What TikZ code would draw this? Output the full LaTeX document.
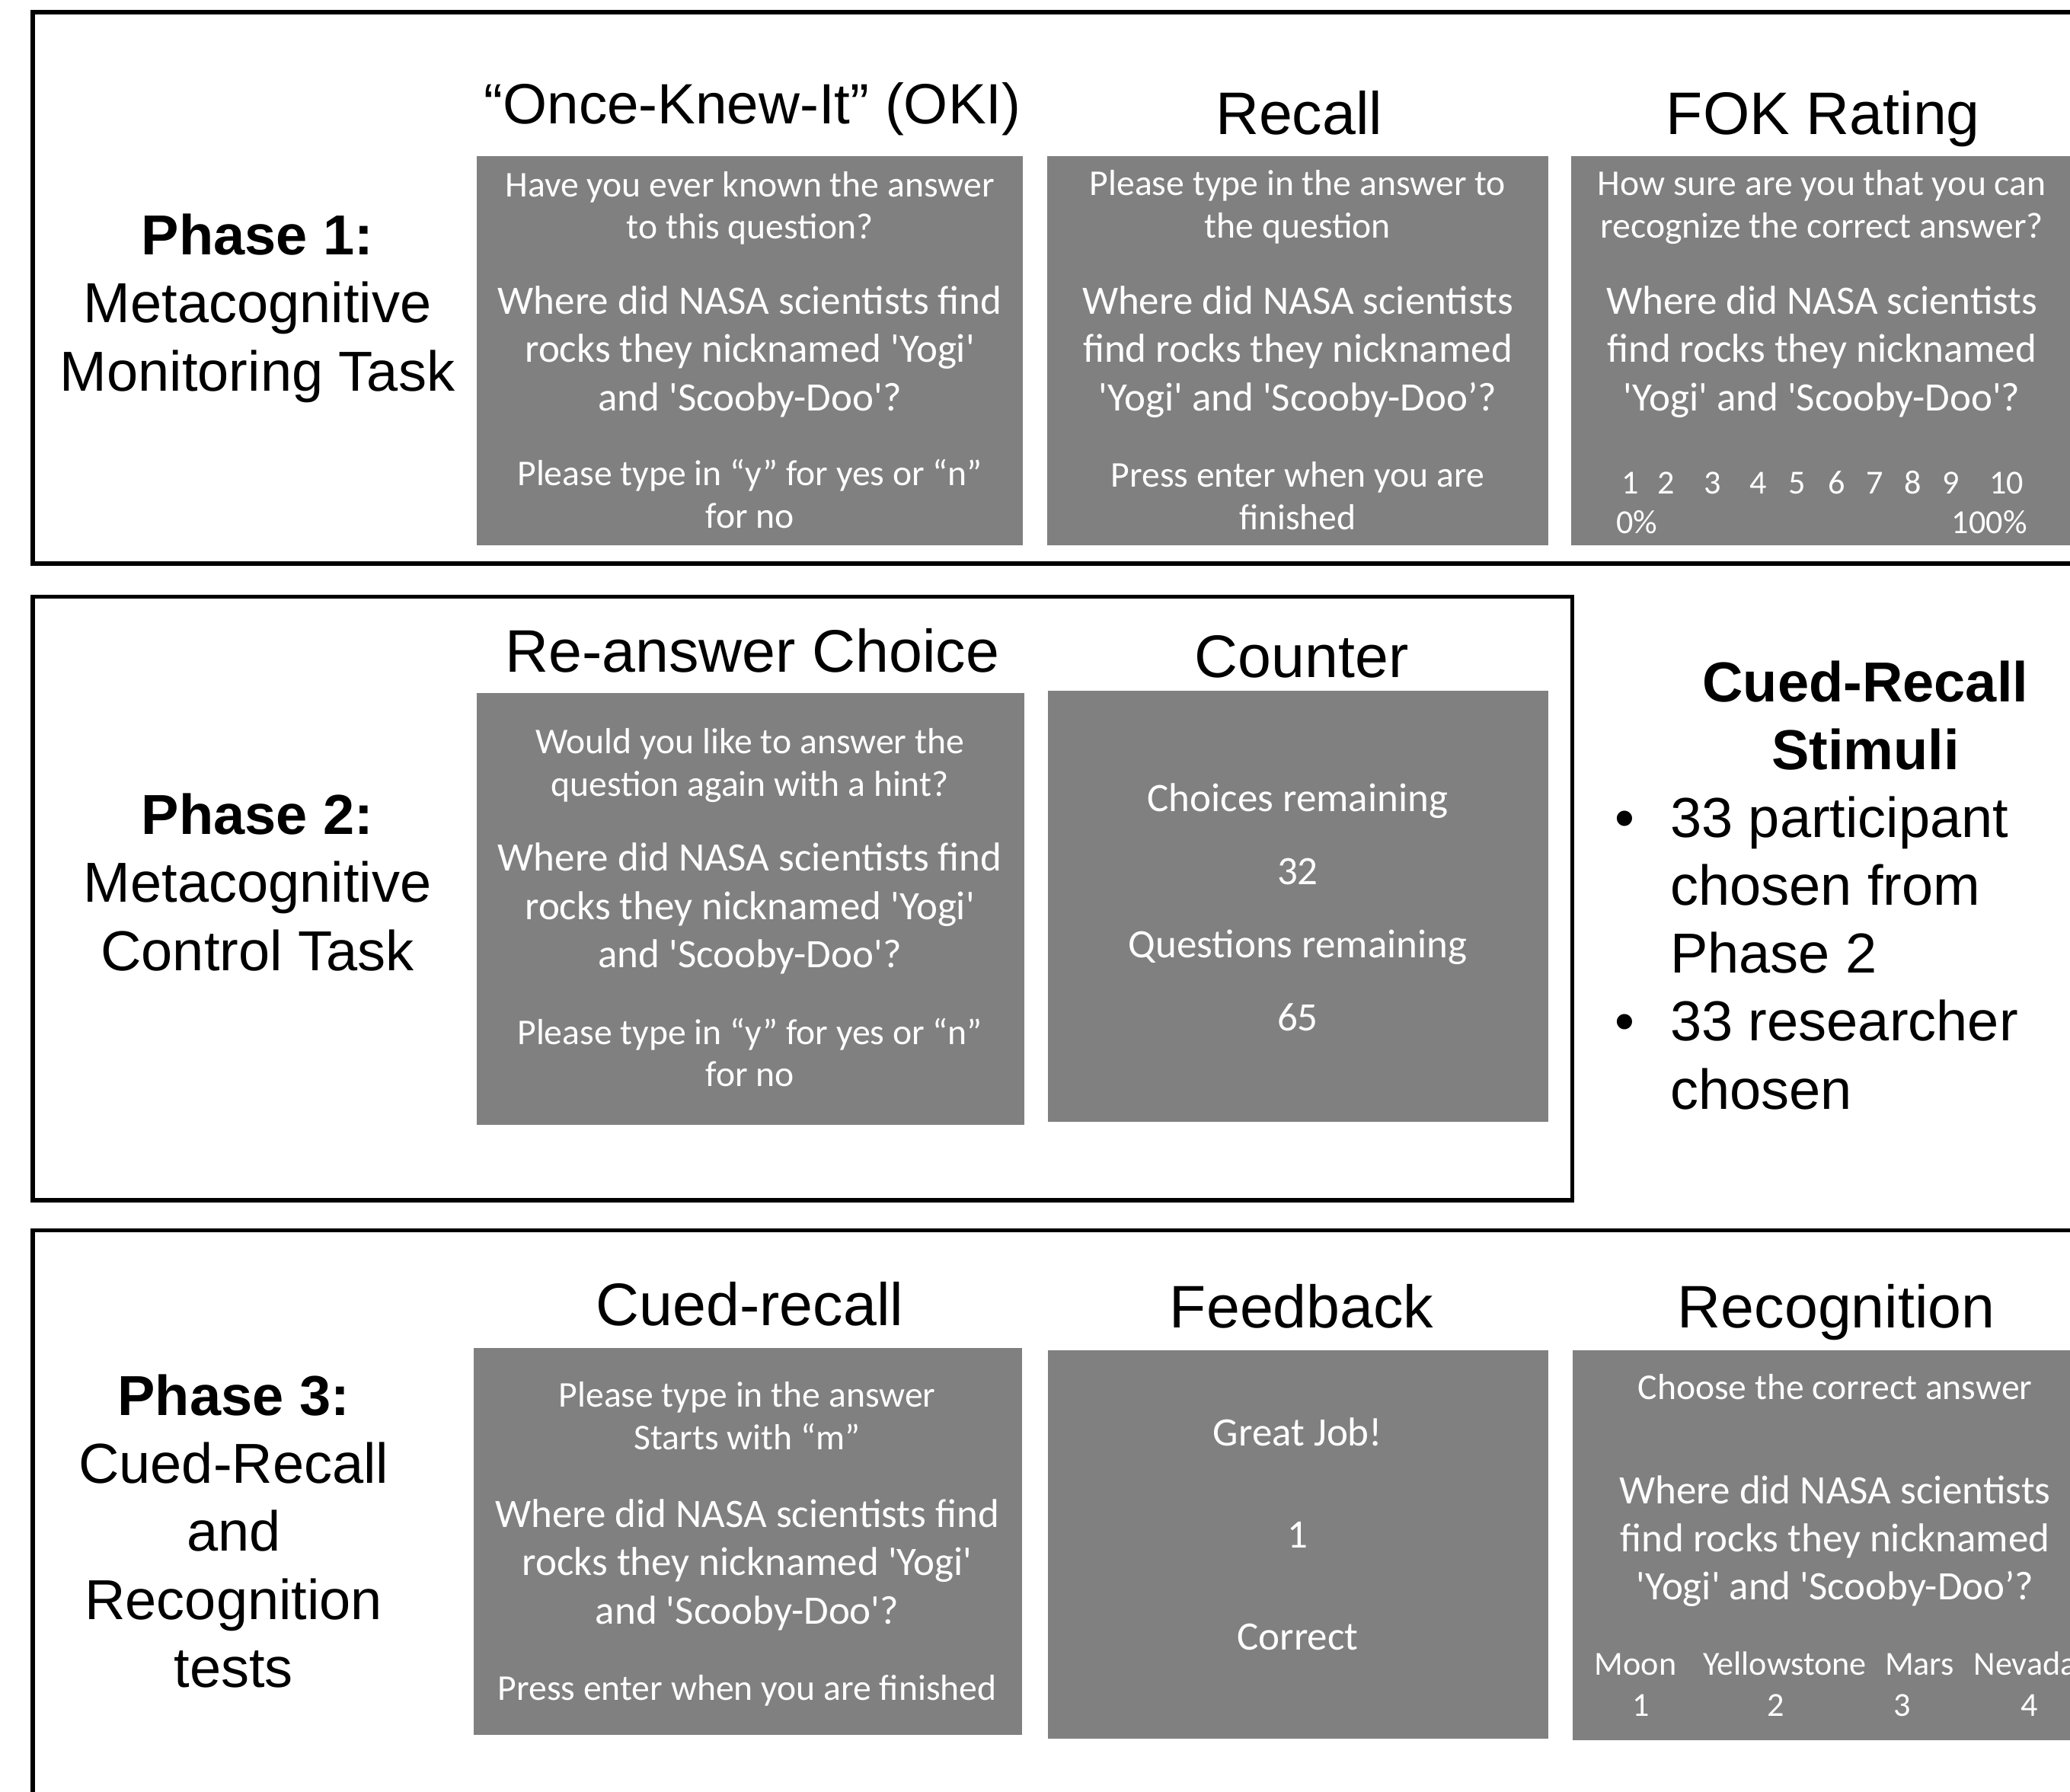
\documentclass[tikz,border=0pt]{standalone}
\usepackage{fontspec}
\setmainfont{Liberation Sans}
\newfontfamily\calib[Ligatures=TeXOff]{Carlito}
\usetikzlibrary{positioning}
\newcommand{\stimbul}{\makebox[0.84cm][l]{•}}
\newcommand{\stimind}{\hspace*{0.84cm}}

\begin{document}
\begin{tikzpicture}[
    x=0.02cm,y=-0.02cm,
    frame/.style={draw, line width=1.9pt},
    screen/.style={fill=gray},
    title/.style={anchor=base, font=\fontsize{25.9}{31}\selectfont},
    phase/.style={anchor=base, align=center, font=\fontsize{24.3}{29.3}\selectfont},
    ask/.style={anchor=base, align=center, text=white, font=\calib\fontsize{15.65}{18.2}\selectfont},
    quest/.style={anchor=base, align=center, text=white, font=\calib\fontsize{17.4}{20.8}\selectfont},
    opt/.style={anchor=base, text=white, font=\calib\fontsize{14.5}{18}\selectfont}
  ]
  \useasboundingbox (0,0) rectangle (1568,1357);
  \clip (0,0) rectangle (1568,1357);
  % phase frames
  \draw[frame] (25,9) rectangle (1640,427);
  \draw[frame] (25,452) rectangle (1191,909);
  \draw[frame] (25,932) rectangle (1640,1440);
  % screens
  \fill[screen] (361,118) rectangle (775,413);
  \fill[screen] (793,118) rectangle (1173,413);
  \fill[screen] (1190,118) rectangle (1640,413);
  \fill[screen] (361,525) rectangle (776,852);
  \fill[screen] (794,523) rectangle (1173,850);
  \fill[screen] (359,1021) rectangle (774,1314);
  \fill[screen] (794,1023) rectangle (1173,1317);
  \fill[screen] (1191,1023) rectangle (1640,1318);

  % phase 1 (multi-line nodes sit on their last baseline)
  \node[phase] (p1) at (195,296) {\textbf{Phase 1:}\\Metacognitive\\Monitoring Task};
  \node[title, font=\fontsize{24.5}{30}\selectfont] (okiT) at (570,94) {“Once-Knew-It” (OKI)};
  \node[title] (recallT) at (984,102) {Recall};
  \node[title] (fokT) at (1381,102) {FOK Rating};
  \node[ask] (okiA) at (568,181) {Have you ever known the answer\\to this question?};
  \node[quest] (okiQ) at (568,311) {Where did NASA scientists find\\rocks they nicknamed 'Yogi'\\and 'Scooby-Doo'?};
  \node[ask] (okiB) at (568,400) {Please type in “y” for yes or “n”\\for no};
  \node[ask] (recallA) at (983,180) {Please type in the answer to\\the question};
  \node[quest] (recallQ) at (983,311) {Where did NASA scientists\\find rocks they nicknamed\\'Yogi' and 'Scooby-Doo’?};
  \node[ask] (recallB) at (983,401) {Press enter when you are\\finished};
  \node[ask] (fokA) at (1380,180) {How sure are you that you can\\recognize the correct answer?};
  \node[quest] (fokQ) at (1380,311) {Where did NASA scientists\\find rocks they nicknamed\\'Yogi' and 'Scooby-Doo'?};
  \foreach \n/\x in {1/1235,2/1262,3/1297,4/1332,5/1361,6/1391,7/1420,8/1449,9/1478,10/1520}
    \node[opt] (fok\n) at (\x,374) {\n};
  \node[opt] (fokLo) at (1240,404) {0\%};
  \node[opt] (fokHi) at (1507,404) {100\%};

  % phase 2
  \node[phase] (p2) at (195,735) {\textbf{Phase 2:}\\Metacognitive\\Control Task};
  \node[title] (reansT) at (570,509) {Re-answer Choice};
  \node[title] (counterT) at (986,513) {Counter};
  \node[ask] (reansA) at (568,603) {Would you like to answer the\\question again with a hint?};
  \node[quest] (reansQ) at (568,733) {Where did NASA scientists find\\rocks they nicknamed 'Yogi'\\and 'Scooby-Doo'?};
  \node[ask] (reansB) at (568,823) {Please type in “y” for yes or “n”\\for no};
  \node[quest, font=\calib\fontsize{17.4}{31.6}\selectfont] (counterC) at (983,781) {Choices remaining\\32\\Questions remaining\\65};
  \node[phase] (stimT) at (1413,583) {\textbf{Cued-Recall}\\\textbf{Stimuli}};
  \node[phase, align=left, anchor=base west] (stimL) at (1217,840) {\stimbul 33 participant\\\stimind chosen from\\\stimind Phase 2\\\stimbul 33 researcher\\\stimind chosen};

  % phase 3
  \node[phase] (p3) at (177,1278) {\textbf{Phase 3:}\\Cued-Recall\\and\\Recognition\\tests};
  \node[title] (cuedT) at (568,1004) {Cued-recall};
  \node[title] (feedT) at (986,1006) {Feedback};
  \node[title] (recogT) at (1391,1006) {Recognition};
  \node[ask] (cuedA) at (566,1098) {Please type in the answer\\Starts with “m”};
  \node[quest] (cuedQ) at (566,1230) {Where did NASA scientists find\\rocks they nicknamed 'Yogi'\\and 'Scooby-Doo'?};
  \node[ask] (cuedB) at (566,1288) {Press enter when you are finished};
  \node[quest, font=\calib\fontsize{17.4}{44.1}\selectfont] (feedC) at (983,1250) {Great Job!\\1\\Correct};
  \node[ask] (recogA) at (1390,1060) {Choose the correct answer};
  \node[quest] (recogQ) at (1390,1212) {Where did NASA scientists\\find rocks they nicknamed\\'Yogi' and 'Scooby-Doo’?};
  \foreach \w/\x/\n/\xn in {Moon/1239/1/1243,Yellowstone/1352/2/1345,Mars/1454/3/1441,Nevada/1534/4/1537}{
    \node[opt] (opt\n) at (\x,1269) {\w};
    \node[opt] (num\n) at (\xn,1300) {\n};
  }
\end{tikzpicture}
\end{document}
